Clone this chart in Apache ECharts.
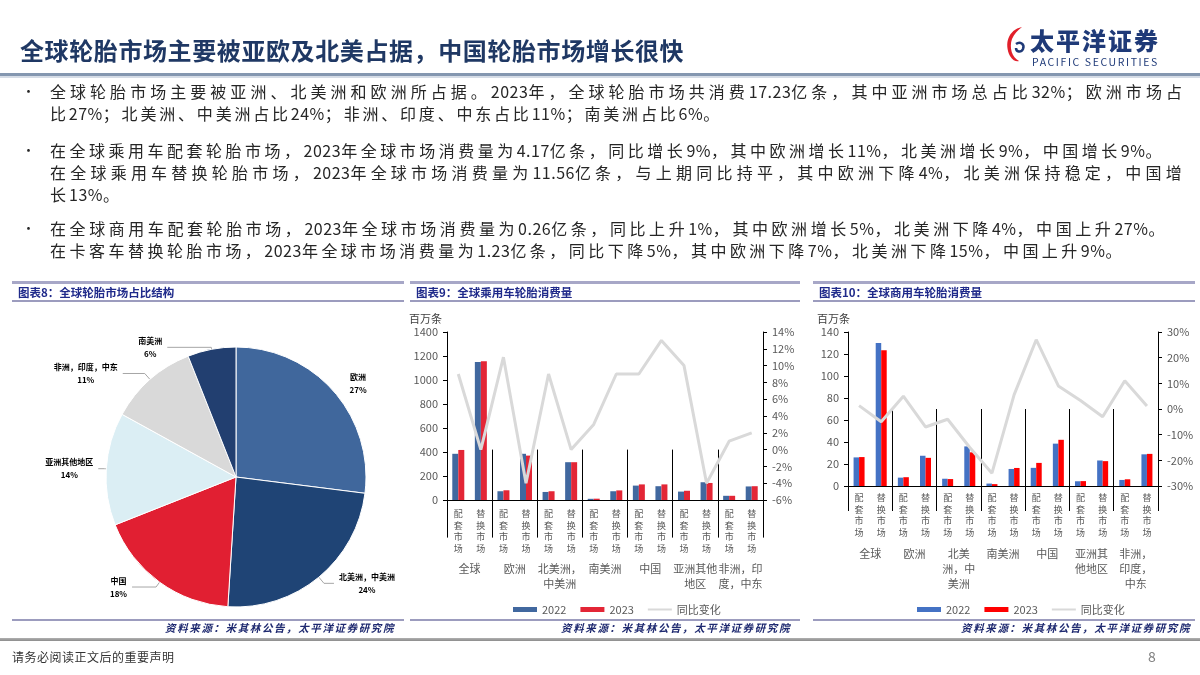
<!DOCTYPE html>
<html><head><meta charset="utf-8">
<script src="https://cdn.jsdelivr.net/npm/echarts@6/dist/echarts.min.js"></script>
<style>
html,body{margin:0;padding:0;background:#fff}
body{width:1200px;height:675px;overflow:hidden;position:relative;font-family:"Noto Sans CJK SC","Noto Sans",sans-serif}
#chart{position:absolute;left:0;top:0;width:1200px;height:675px}
.abs{position:absolute;white-space:nowrap}
.title{left:20px;top:34px;font-size:24px;line-height:32px;font-weight:bold;color:#1f3864;letter-spacing:0.6px}
.topline{left:0;top:73px;width:1200px;height:3px;background:#8497b0;border-bottom:2px solid #d5dce6}
.bl{left:50px;font-size:16px;line-height:22px;color:#262626;letter-spacing:0}
.bl .n{letter-spacing:0.5px}
.dot{left:22px;font-size:13px;line-height:22px;color:#262626}
.ph{height:16px;border-top:3px solid #a7a7c7;border-bottom:2px solid #9c9cbe;font-size:11.5px;line-height:16px;font-weight:bold;color:#1f2a8a;padding-left:6px;box-sizing:content-box}
.pb{height:0;border-top:2px solid #9c9cbe}
.src{font-size:10.5px;font-weight:bold;font-style:italic;color:#1f2a70;letter-spacing:1.6px;text-align:right}
.foot{left:12px;top:648px;font-size:12px;color:#333;letter-spacing:0.5px}
.pg{left:1148px;top:646px;font-size:14px;color:#7f7f7f}
.footline{left:0;top:638px;width:1200px;height:3px;background:linear-gradient(#b0b0b0,#8c8c8c)}
.logo1{left:1030px;top:22px;font-size:24px;font-weight:900;color:#1f3a78;letter-spacing:2px}
.logo2{left:1032px;top:54px;font-size:10.5px;color:#1f3a78;letter-spacing:1.6px}
</style>
</head><body>
<div id="chart"></div>

<div class="abs title">全球轮胎市场主要被亚欧及北美占据，中国轮胎市场增长很快</div>
<svg class="abs" style="left:1002px;top:24px" width="28" height="40" viewBox="0 0 28 40">
  <path d="M20 3 C6 6 2 20 8 32 C11 37 15 38 17 37 C10 33 7 24 10 15 C12 10 16 6 20 3 Z" fill="#e11f2a"/>
  <path d="M14 20 C18 17 23 20 21 25 C19 29 14 28 14 24" fill="none" stroke="#1f3a78" stroke-width="2.5"/>
</svg>
<div class="abs logo1">太平洋证券</div>
<div class="abs logo2">PACIFIC SECURITIES</div>
<div class="abs topline"></div>

<div class="abs dot" style="top:80px">•</div>
<div class="abs bl" data-w="1136" style="top:80px">全球轮胎市场主要被亚洲、北美洲和欧洲所占据。2023年，全球轮胎市场共消费17.23亿条，其中亚洲市场总占比32%；欧洲市场占</div>
<div class="abs bl" data-w="672" style="top:102px">比27%；北美洲、中美洲占比24%；非洲、印度、中东占比11%；南美洲占比6%。</div>
<div class="abs dot" style="top:139px">•</div>
<div class="abs bl" data-w="1115" style="top:139px">在全球乘用车配套轮胎市场，2023年全球市场消费量为4.17亿条，同比增长9%，其中欧洲增长11%，北美洲增长9%，中国增长9%。</div>
<div class="abs bl" data-w="1136" style="top:161px">在全球乘用车替换轮胎市场，2023年全球市场消费量为11.56亿条，与上期同比持平，其中欧洲下降4%，北美洲保持稳定，中国增</div>
<div class="abs bl" data-ls="3" style="top:183px">长13%。</div>
<div class="abs dot" style="top:217px">•</div>
<div class="abs bl" data-w="1118" style="top:217px">在全球商用车配套轮胎市场，2023年全球市场消费量为0.26亿条，同比上升1%，其中欧洲增长5%，北美洲下降4%，中国上升27%。</div>
<div class="abs bl" data-w="1075" style="top:239px">在卡客车替换轮胎市场，2023年全球市场消费量为1.23亿条，同比下降5%，其中欧洲下降7%，北美洲下降15%，中国上升9%。</div>

<div class="abs ph" style="left:12px;top:281px;width:386px">图表8：全球轮胎市场占比结构</div>
<div class="abs ph" style="left:410px;top:281px;width:384px">图表9：全球乘用车轮胎消费量</div>
<div class="abs ph" style="left:813px;top:281px;width:376px">图表10：全球商用车轮胎消费量</div>

<div class="abs pb" style="left:12px;top:619px;width:392px"></div>
<div class="abs pb" style="left:410px;top:619px;width:390px"></div>
<div class="abs pb" style="left:813px;top:619px;width:382px"></div>
<div class="abs src" style="left:12px;top:620px;width:383px">资料来源：米其林公告，太平洋证券研究院</div>
<div class="abs src" style="left:410px;top:620px;width:381px">资料来源：米其林公告，太平洋证券研究院</div>
<div class="abs src" style="left:813px;top:620px;width:378px">资料来源：米其林公告，太平洋证券研究院</div>

<div class="abs footline"></div>
<div class="abs foot">请务必阅读正文后的重要声明</div>
<div class="abs pg">8</div>

<script>
// even out the letter spacing of each bullet line so it ends where the reference line ends
document.querySelectorAll('.bl').forEach(el => {
  const txt = el.textContent;
  el.innerHTML = txt.replace(/([0-9.%]+)/g, '<span class="n">$1</span>');
  const other = txt.replace(/[0-9.%]/g, '').length;
  if (el.dataset.w) {
    el.style.letterSpacing = '0px';
    const w0 = el.getBoundingClientRect().width;
    const ls = (parseFloat(el.dataset.w) - w0) / other;
    el.style.letterSpacing = ls.toFixed(3) + 'px';
  } else {
    el.style.letterSpacing = el.dataset.ls + 'px';
  }
});

// ---------- data ----------
const pieNames = ['欧洲', '北美洲，中美洲', '中国', '亚洲其他地区', '非洲，印度，中东', '南美洲'];
const pieValues = [27, 24, 18, 14, 11, 6];

const subCats = ['配套市场', '替换市场', '配套市场', '替换市场', '配套市场', '替换市场', '配套市场', '替换市场', '配套市场', '替换市场', '配套市场', '替换市场', '配套市场', '替换市场'];
const groups9 = ['全球', '欧洲', '北美洲，\n中美洲', '南美洲', '中国', '亚洲其他\n地区', '非洲，印\n度，中东'];
const groups10 = ['全球', '欧洲', '北美\n洲，中\n美洲', '南美洲', '中国', '亚洲其\n他地区', '非洲，\n印度，\n中东'];
const seriesNames = ['2022', '2023', '同比变化'];

const pc2022 = [385, 1150, 73, 385, 67, 315, 10, 73, 120, 115, 70, 148, 35, 113];
const pc2023 = [417, 1156, 81, 370, 73, 315, 11, 80, 130, 130, 77, 142, 35, 115];
const pcYoy = [9, 0, 11, -4, 9, 0, 3, 9, 9, 13, 10, -4, 1, 2];

const cv2022 = [26, 130, 7.6, 27.5, 6.6, 36, 2.2, 15.5, 16.5, 38.5, 4.3, 23.2, 5.5, 28.8];
const cv2023 = [26.3, 123.5, 8, 25.6, 6.3, 30.6, 1.7, 16.4, 21, 42, 4.45, 22.6, 6.1, 29.2];
const cvYoy = [1.3, -5, 5, -7, -4, -15, -25, 5.5, 27, 9, 3.3, -3, 11, 1.2];

// ---------- styles ----------
const pieColors = ['#40679c', '#1f4475', '#e11f32', '#dbeef4', '#d9d9d9', '#223f70'];
const pieLines = [
  { show: false, length: 12, length2: 2 },
  { length: 8, length2: 10 },
  { length: 6, length2: 24 },
  { length: 2, length2: 6 },
  { length: 8, length2: 22 },
  { length: 2, length2: 44 }
];
const c9 = ['#41689f', '#e32636', '#d9d9d9'];
const c10 = ['#4472c4', '#ff0000', '#d9d9d9'];
const FONT = '"Noto Sans CJK SC","Noto Sans",sans-serif';
const labelGray = '#595959';
const plain = v => String(v);

function subAxis(grid, margin) {
  return {
    gridIndex: grid, type: 'category', data: subCats,
    axisLine: { lineStyle: { color: '#000', width: 1 } },
    axisTick: { show: false },
    axisLabel: { interval: 0, fontSize: 9, lineHeight: 11.5, color: labelGray, margin: margin,
      formatter: v => v.split('').join('\n') }
  };
}
function groupAxis(grid, data, tickLen, margin) {
  return {
    gridIndex: grid, type: 'category', data: data, position: 'bottom',
    axisLine: { show: false },
    axisTick: { show: true, interval: 0, length: tickLen, lineStyle: { color: '#000', width: 1 } },
    axisLabel: { interval: 0, fontSize: 11, lineHeight: 15, color: labelGray, margin: margin }
  };
}
function valAxis(grid, min, max, interval, pos, fmt, name, namePad) {
  const a = {
    gridIndex: grid, type: 'value', min: min, max: max, interval: interval, position: pos,
    axisLine: { show: true, lineStyle: { color: '#000', width: 1 } },
    axisTick: { show: true, length: 4, lineStyle: { color: '#000' } },
    splitLine: { show: false },
    axisLabel: { formatter: fmt, color: labelGray, fontSize: 11, margin: 9 }
  };
  if (name) {
    a.name = name; a.nameGap = 8;
    a.nameTextStyle = { align: 'right', color: '#404040', fontSize: 11, padding: namePad };
  }
  return a;
}

const chart = echarts.init(document.getElementById('chart'), null, { renderer: 'canvas' });
const option = {
  animation: false,
  textStyle: { fontFamily: FONT },
  grid: [
    { left: 447, top: 332, width: 316, height: 168 },
    { left: 848, top: 332, width: 310, height: 154 }
  ],
  xAxis: [
    subAxis(0, 8), groupAxis(0, groups9, 88, 61),
    subAxis(1, 6), groupAxis(1, groups10, 102, 60)
  ],
  yAxis: [
    valAxis(0, 0, 1400, 200, 'left', plain, '百万条', [0, 5, 0, 0]),
    valAxis(0, -6, 14, 2, 'right', v => v + '%'),
    valAxis(1, 0, 140, 20, 'left', plain, '百万条', [0, -2, 0, 0]),
    valAxis(1, -30, 30, 10, 'right', v => v + '%')
  ],
  legend: [
    { left: 508, top: 599, itemWidth: 24, itemHeight: 5, itemGap: 14, icon: 'rect',
      textStyle: { fontSize: 11, color: labelGray },
      data: [
        { name: seriesNames[0], itemStyle: { color: c9[0] } },
        { name: seriesNames[1], itemStyle: { color: c9[1] } },
        { name: seriesNames[2], icon: 'path://M0,0L24,0L24,2L0,2Z', itemStyle: { color: c9[2] } }
      ] },
    { left: 912, top: 599, itemWidth: 24, itemHeight: 5, itemGap: 14, icon: 'rect',
      textStyle: { fontSize: 11, color: labelGray },
      data: [
        { name: seriesNames[0], itemStyle: { color: c10[0] } },
        { name: seriesNames[1], itemStyle: { color: c10[1] } },
        { name: seriesNames[2], icon: 'path://M0,0L24,0L24,2L0,2Z', itemStyle: { color: c10[2] } }
      ] }
  ],
  series: [
    {
      type: 'pie', center: [236, 477], radius: 130, startAngle: 90, clockwise: true,
      avoidLabelOverlap: false,
      data: pieNames.map((n, i) => ({ name: n, value: pieValues[i], itemStyle: { color: pieColors[i] }, labelLine: pieLines[i] })),
      itemStyle: { borderColor: '#fff', borderWidth: 1 },
      label: { show: true, position: 'outside', color: '#000',
        formatter: p => '{c|' + p.name + '}\n{c|' + p.value + '%}',
        rich: { c: { fontSize: 8, fontWeight: 'bold', color: '#000', lineHeight: 13, align: 'center', fontFamily: FONT } } },
      labelLine: { show: true, length: 6, length2: 14, lineStyle: { color: '#a6a6a6', width: 1 } }
    },
    { name: seriesNames[0], type: 'bar', xAxisIndex: 0, yAxisIndex: 0, data: pc2022, barWidth: 6, barGap: '0%', itemStyle: { color: c9[0] } },
    { name: seriesNames[1], type: 'bar', xAxisIndex: 0, yAxisIndex: 0, data: pc2023, barWidth: 6, barGap: '0%', itemStyle: { color: c9[1] } },
    { name: seriesNames[2], type: 'line', xAxisIndex: 0, yAxisIndex: 1, data: pcYoy, symbol: 'none', lineStyle: { color: c9[2], width: 3 }, itemStyle: { color: c9[2] } },
    { name: seriesNames[0], type: 'bar', xAxisIndex: 2, yAxisIndex: 2, data: cv2022, barWidth: 5.5, barGap: '0%', itemStyle: { color: c10[0] } },
    { name: seriesNames[1], type: 'bar', xAxisIndex: 2, yAxisIndex: 2, data: cv2023, barWidth: 5.5, barGap: '0%', itemStyle: { color: c10[1] } },
    { name: seriesNames[2], type: 'line', xAxisIndex: 2, yAxisIndex: 3, data: cvYoy, symbol: 'none', lineStyle: { color: c10[2], width: 3 }, itemStyle: { color: c10[2] } }
  ]
};
chart.setOption(option);
</script>
</body></html>
